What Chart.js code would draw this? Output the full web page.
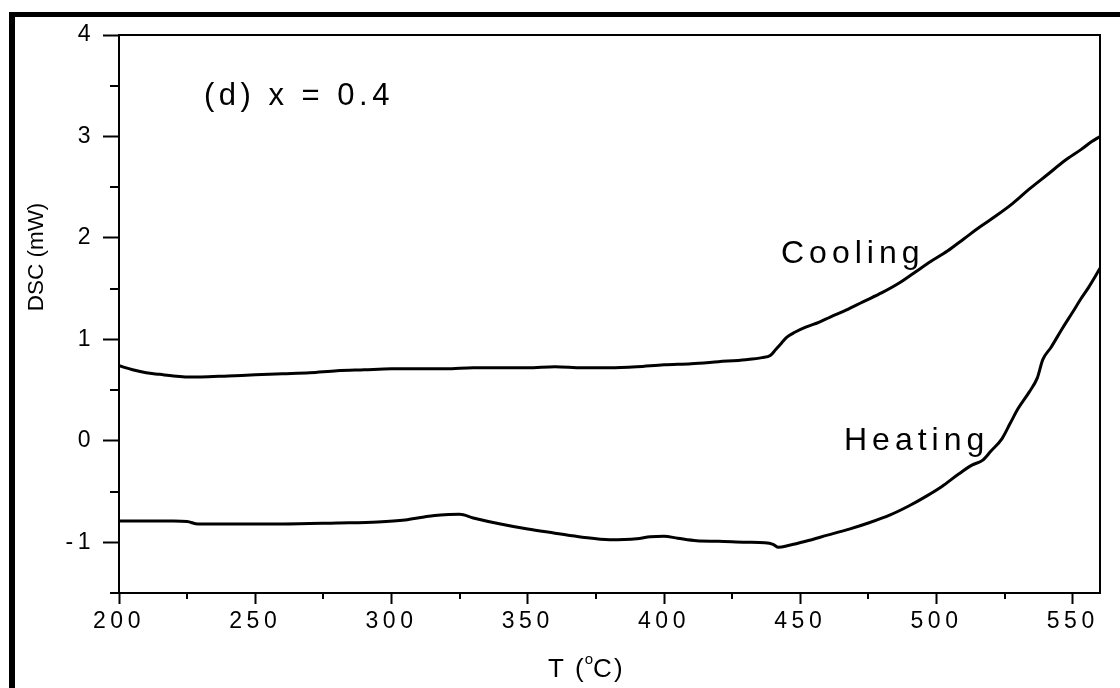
<!DOCTYPE html>
<html>
<head>
  <meta charset="UTF-8">
  <title>DSC (d) x = 0.4</title>
  <script src="https://cdn.jsdelivr.net/npm/chart.js"></script>
  <style>
    body {
      margin: 0;
      background: #fff;
    }
    #wrap {
      position: relative;
      width: 1120px;
      height: 688px;
      overflow: hidden;
    }
    #frame {
      position: absolute;
      left: 9px;
      top: 12px;
      width: 1300px;
      height: 900px;
      border-top: 5px solid #000;
      border-left: 6px solid #000;
    }
    canvas {
      position: absolute;
      left: 0;
      top: 0;
    }
  </style>
</head>
<body>
  <div id="wrap">
    <div id="frame"></div>
    <canvas id="dsc" width="1120" height="688"></canvas>
  </div>
  <script>
    // cooling curve (T in °C, DSC in mW)
    const coolT = [200, 205, 210, 215, 220, 225, 230, 240, 250, 260, 270, 280, 290, 300, 310, 320, 330, 340, 350, 360, 370, 380, 390, 400, 410, 420, 430, 436, 439, 441, 443, 445, 448, 452, 457, 461, 467, 473, 480, 486, 492, 498, 504, 510, 516, 522, 528, 534, 541, 547, 553, 557, 560];
    const coolDSC = [0.74, 0.70, 0.67, 0.655, 0.64, 0.63, 0.63, 0.64, 0.65, 0.66, 0.67, 0.69, 0.70, 0.71, 0.71, 0.71, 0.72, 0.72, 0.72, 0.73, 0.72, 0.72, 0.73, 0.75, 0.76, 0.78, 0.80, 0.82, 0.84, 0.90, 0.96, 1.02, 1.07, 1.12, 1.17, 1.22, 1.29, 1.37, 1.46, 1.55, 1.66, 1.77, 1.87, 1.99, 2.11, 2.22, 2.34, 2.48, 2.63, 2.76, 2.87, 2.95, 3.00];

    // heating curve
    const heatT = [200, 210, 220, 225, 229, 240, 260, 280, 295, 305, 312, 318, 325, 330, 340, 350, 360, 370, 380, 390, 395, 400, 405, 412, 420, 430, 437, 440, 442, 446, 452, 460, 468, 475, 483, 490, 496, 502, 508, 513, 517, 520, 524, 527, 530, 534, 537, 539, 542, 546, 550, 553, 556, 560];
    const heatDSC = [-0.79, -0.79, -0.79, -0.795, -0.82, -0.82, -0.82, -0.81, -0.80, -0.78, -0.75, -0.73, -0.725, -0.76, -0.82, -0.87, -0.91, -0.95, -0.975, -0.965, -0.945, -0.94, -0.96, -0.985, -0.99, -1.0, -1.005, -1.02, -1.05, -1.03, -0.99, -0.93, -0.87, -0.81, -0.73, -0.64, -0.55, -0.45, -0.33, -0.24, -0.19, -0.10, 0.02, 0.17, 0.32, 0.48, 0.62, 0.80, 0.92, 1.10, 1.27, 1.40, 1.52, 1.70];

    const xTicks = [200, 250, 300, 350, 400, 450, 500, 550];
    const xMinor = [225, 275, 325, 375, 425, 475, 525];
    const yTicks = [-1, 0, 1, 2, 3, 4];
    const yMinor = [-1.5, -0.5, 0.5, 1.5, 2.5, 3.5];

    const FONT = "'Liberation Sans', Arial, sans-serif";

    function pts(xs, ys) {
      return xs.map((x, i) => ({ x: x, y: ys[i] }));
    }

    // letter spacing like the original plot software
    const spacing = {
      id: 'spacing',
      beforeDraw(chart) {
        chart.ctx.letterSpacing = '4.5px';
      }
    };

    const extras = {
      id: 'extras',
      afterDraw(chart) {
        const ctx = chart.ctx;
        const a = chart.chartArea;
        const xs = chart.scales.x, ys = chart.scales.y;
        ctx.save();
        ctx.strokeStyle = '#000';
        ctx.lineWidth = 2;
        ctx.strokeRect(a.left, a.top, a.right - a.left, a.bottom - a.top);

        // minor ticks
        ctx.beginPath();
        yMinor.forEach(v => {
          const y = Math.round(ys.getPixelForValue(v));
          ctx.moveTo(a.left - 9, y);
          ctx.lineTo(a.left, y);
        });
        xMinor.forEach(v => {
          const x = Math.round(xs.getPixelForValue(v));
          ctx.moveTo(x, a.bottom);
          ctx.lineTo(x, a.bottom + 6);
        });
        ctx.stroke();

        ctx.fillStyle = '#000';
        ctx.textBaseline = 'alphabetic';
        ctx.textAlign = 'left';

        ctx.letterSpacing = '4.5px';
        ctx.font = '31px ' + FONT;
        ctx.fillText('(d) x = 0.4', 204, 105);
        ctx.letterSpacing = '5px';
        ctx.font = '32px ' + FONT;
        ctx.fillText('Cooling', 781, 263);
        ctx.fillText('Heating', 844, 450);

        // x title with superscript o
        ctx.letterSpacing = '2px';
        ctx.font = '26px ' + FONT;
        let x = 548;
        const base = 677;
        ctx.fillText('T (', x, base);
        x += ctx.measureText('T (').width;
        ctx.font = '15px ' + FONT;
        ctx.fillText('o', x - 1, base - 13);
        x += ctx.measureText('o').width - 3;
        ctx.font = '26px ' + FONT;
        ctx.fillText('C)', x, base);

        // y title
        ctx.letterSpacing = '0px';
        ctx.translate(37, 257);
        ctx.rotate(-Math.PI / 2);
        ctx.textAlign = 'center';
        ctx.textBaseline = 'middle';
        ctx.font = '22.5px ' + FONT;
        ctx.fillText('DSC (mW)', 0, 0);
        ctx.restore();
      }
    };

    const tickFont = { family: FONT, size: 23 };

    new Chart(document.getElementById('dsc'), {
      type: 'line',
      data: {
        datasets: [
          {
            label: 'Cooling',
            data: pts(coolT, coolDSC),
            borderColor: '#000',
            borderWidth: 3,
            pointRadius: 0,
            cubicInterpolationMode: 'monotone',
            fill: false
          },
          {
            label: 'Heating',
            data: pts(heatT, heatDSC),
            borderColor: '#000',
            borderWidth: 3,
            pointRadius: 0,
            cubicInterpolationMode: 'monotone',
            fill: false
          }
        ]
      },
      options: {
        responsive: false,
        animation: false,
        layout: { padding: { top: 35, right: 20, left: 0, bottom: 0 } },
        plugins: {
          legend: { display: false },
          tooltip: { enabled: false }
        },
        scales: {
          x: {
            type: 'linear',
            min: 200,
            max: 560,
            afterFit: s => { s.height = 95; },
            afterBuildTicks: s => { s.ticks = xTicks.map(v => ({ value: v })); },
            ticks: { color: '#000', font: tickFont, padding: 4 },
            grid: { display: true, drawOnChartArea: false, color: '#000', tickLength: 11, tickWidth: 2 },
            border: { display: true, color: '#000', width: 2 }
          },
          y: {
            min: -1.5,
            max: 4,
            afterFit: s => { s.width = 119; },
            afterBuildTicks: s => { s.ticks = yTicks.map(v => ({ value: v })); },
            ticks: { color: '#000', font: tickFont, padding: 8 },
            grid: { display: true, drawOnChartArea: false, color: '#000', tickLength: 16, tickWidth: 2 },
            border: { display: true, color: '#000', width: 2 }
          }
        }
      },
      plugins: [spacing, extras]
    });
  </script>
</body>
</html>
